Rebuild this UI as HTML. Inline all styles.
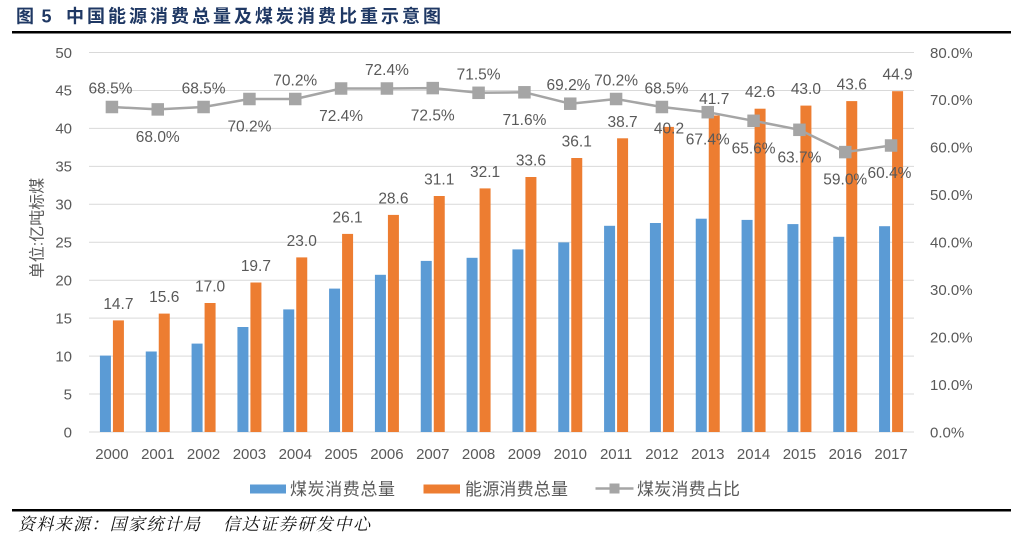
<!DOCTYPE html>
<html><head><meta charset="utf-8"><style>
html,body{margin:0;padding:0;background:#fff;}
svg{display:block;}
</style></head><body>
<svg width="1016" height="537" viewBox="0 0 1016 537" xmlns="http://www.w3.org/2000/svg">
<rect width="1016" height="537" fill="#fff"/>
<!-- Title -->
<g fill="#1F3864" font-weight="bold">
<text x="16" y="22.5" font-size="18" font-family="'Liberation Sans','Noto Sans CJK SC',sans-serif">图</text>
<text x="41.5" y="22.5" font-size="18" font-family="'Liberation Sans',sans-serif">5</text>
<text x="66" y="22.5" font-size="18" textLength="375" lengthAdjust="spacing" font-family="'Liberation Sans','Noto Sans CJK SC',sans-serif">中国能源消费总量及煤炭消费比重示意图</text>
</g>
<rect x="12" y="31" width="999" height="2.5" fill="#000"/>
<rect x="12" y="509" width="999" height="2.5" fill="#000"/>
<!-- Source -->
<g fill="#111" font-size="17" font-style="italic" font-family="'Liberation Serif','Noto Serif CJK SC',serif">
<text x="18" y="530" textLength="182" lengthAdjust="spacing">资料来源：国家统计局</text>
<text x="223" y="530" textLength="147" lengthAdjust="spacing">信达证券研发中心</text>
</g>
<!-- Gridlines -->
<g stroke="#D9D9D9" stroke-width="1">
<line x1="89" x2="914" y1="432" y2="432"/>
<line x1="89" x2="914" y1="394.05" y2="394.05"/>
<line x1="89" x2="914" y1="356.1" y2="356.1"/>
<line x1="89" x2="914" y1="318.15" y2="318.15"/>
<line x1="89" x2="914" y1="280.2" y2="280.2"/>
<line x1="89" x2="914" y1="242.25" y2="242.25"/>
<line x1="89" x2="914" y1="204.3" y2="204.3"/>
<line x1="89" x2="914" y1="166.35" y2="166.35"/>
<line x1="89" x2="914" y1="128.4" y2="128.4"/>
<line x1="89" x2="914" y1="90.45" y2="90.45"/>
<line x1="89" x2="914" y1="52.5" y2="52.5"/>
</g>
<!-- Left axis labels -->
<g fill="#595959" font-size="15" font-family="'Liberation Sans',sans-serif" text-anchor="end">
<text x="72" y="437.3">0</text>
<text x="72" y="399.3">5</text>
<text x="72" y="361.4">10</text>
<text x="72" y="323.4">15</text>
<text x="72" y="285.5">20</text>
<text x="72" y="247.5">25</text>
<text x="72" y="209.6">30</text>
<text x="72" y="171.6">35</text>
<text x="72" y="133.7">40</text>
<text x="72" y="95.7">45</text>
<text x="72" y="57.8">50</text>
</g>
<!-- Right axis labels -->
<g fill="#595959" font-size="15" font-family="'Liberation Sans',sans-serif">
<text x="930" y="437.3">0.0%</text>
<text x="930" y="389.9">10.0%</text>
<text x="930" y="342.4">20.0%</text>
<text x="930" y="295.0">30.0%</text>
<text x="930" y="247.5">40.0%</text>
<text x="930" y="200.1">50.0%</text>
<text x="930" y="152.7">60.0%</text>
<text x="930" y="105.2">70.0%</text>
<text x="930" y="57.8">80.0%</text>
</g>
<!-- Y axis title -->
<text transform="translate(42.5,228) rotate(-90)" text-anchor="middle" fill="#595959" font-size="16" font-family="'Liberation Sans','Noto Sans CJK SC',sans-serif">单位:亿吨标煤</text>
<!-- Blue bars -->
<g fill="#5B9BD5">
<rect x="99.92" y="355.6" width="11" height="76.4"/>
<rect x="145.75" y="351.5" width="11" height="80.5"/>
<rect x="191.58" y="343.6" width="11" height="88.4"/>
<rect x="237.42" y="327.0" width="11" height="105.0"/>
<rect x="283.25" y="309.4" width="11" height="122.6"/>
<rect x="329.08" y="288.6" width="11" height="143.4"/>
<rect x="374.92" y="274.8" width="11" height="157.2"/>
<rect x="420.75" y="260.9" width="11" height="171.1"/>
<rect x="466.58" y="257.8" width="11" height="174.2"/>
<rect x="512.42" y="249.4" width="11" height="182.6"/>
<rect x="558.25" y="242.4" width="11" height="189.6"/>
<rect x="604.08" y="225.8" width="11" height="206.2"/>
<rect x="649.92" y="223.0" width="11" height="209.0"/>
<rect x="695.75" y="218.7" width="11" height="213.3"/>
<rect x="741.58" y="219.9" width="11" height="212.1"/>
<rect x="787.42" y="224.1" width="11" height="207.9"/>
<rect x="833.25" y="236.8" width="11" height="195.2"/>
<rect x="879.08" y="226.2" width="11" height="205.8"/>
</g>
<!-- Orange bars -->
<g fill="#ED7D31">
<rect x="112.92" y="320.4" width="11" height="111.6"/>
<rect x="158.75" y="313.6" width="11" height="118.4"/>
<rect x="204.58" y="303.0" width="11" height="129.0"/>
<rect x="250.42" y="282.5" width="11" height="149.5"/>
<rect x="296.25" y="257.4" width="11" height="174.6"/>
<rect x="342.08" y="233.9" width="11" height="198.1"/>
<rect x="387.92" y="214.9" width="11" height="217.1"/>
<rect x="433.75" y="196.0" width="11" height="236.0"/>
<rect x="479.58" y="188.4" width="11" height="243.6"/>
<rect x="525.42" y="177.0" width="11" height="255.0"/>
<rect x="571.25" y="158.0" width="11" height="274.0"/>
<rect x="617.08" y="138.3" width="11" height="293.7"/>
<rect x="662.92" y="126.9" width="11" height="305.1"/>
<rect x="708.75" y="115.5" width="11" height="316.5"/>
<rect x="754.58" y="108.7" width="11" height="323.3"/>
<rect x="800.42" y="105.6" width="11" height="326.4"/>
<rect x="846.25" y="101.1" width="11" height="330.9"/>
<rect x="892.08" y="91.2" width="11" height="340.8"/>
</g>
<!-- Line -->
<polyline fill="none" stroke="#A5A5A5" stroke-width="2.5" stroke-linejoin="round"
points="111.92,107.0 157.75,109.4 203.58,107.0 249.42,99.0 295.25,99.0 341.08,88.5 386.92,88.5 432.75,88.1 478.58,92.8 524.42,92.3 570.25,103.7 616.08,99.0 661.92,107.0 707.75,112.2 753.58,120.8 799.42,129.8 845.25,152.1 891.08,145.5"/>
<g fill="#A5A5A5">
<rect x="105.67" y="100.75" width="12.5" height="12.5"/>
<rect x="151.5" y="103.15" width="12.5" height="12.5"/>
<rect x="197.33" y="100.75" width="12.5" height="12.5"/>
<rect x="243.17" y="92.75" width="12.5" height="12.5"/>
<rect x="289.0" y="92.75" width="12.5" height="12.5"/>
<rect x="334.83" y="82.25" width="12.5" height="12.5"/>
<rect x="380.67" y="82.25" width="12.5" height="12.5"/>
<rect x="426.5" y="81.85" width="12.5" height="12.5"/>
<rect x="472.33" y="86.55" width="12.5" height="12.5"/>
<rect x="518.17" y="86.05" width="12.5" height="12.5"/>
<rect x="564.0" y="97.45" width="12.5" height="12.5"/>
<rect x="609.83" y="92.75" width="12.5" height="12.5"/>
<rect x="655.67" y="100.75" width="12.5" height="12.5"/>
<rect x="701.5" y="105.95" width="12.5" height="12.5"/>
<rect x="747.33" y="114.55" width="12.5" height="12.5"/>
<rect x="793.17" y="123.55" width="12.5" height="12.5"/>
<rect x="839.0" y="145.85" width="12.5" height="12.5"/>
<rect x="884.83" y="139.25" width="12.5" height="12.5"/>
</g>
<!-- Bar labels -->
<g fill="#595959" font-size="15.5" font-family="'Liberation Sans',sans-serif" text-anchor="middle">
<text x="118.4" y="308.9">14.7</text>
<text x="164.25" y="302.1">15.6</text>
<text x="210.1" y="291.5">17.0</text>
<text x="255.9" y="271.0">19.7</text>
<text x="301.75" y="245.9">23.0</text>
<text x="347.6" y="222.4">26.1</text>
<text x="393.4" y="203.4">28.6</text>
<text x="439.25" y="184.5">31.1</text>
<text x="485.1" y="176.9">32.1</text>
<text x="530.9" y="165.5">33.6</text>
<text x="576.75" y="146.5">36.1</text>
<text x="622.6" y="126.8">38.7</text>
<text x="669" y="133.5">40.2</text>
<text x="714.25" y="104.0">41.7</text>
<text x="760.1" y="97.2">42.6</text>
<text x="805.9" y="94.1">43.0</text>
<text x="851.75" y="89.6">43.6</text>
<text x="897.6" y="79.7">44.9</text>
</g>
<!-- Percent labels -->
<g fill="#595959" font-size="15.5" font-family="'Liberation Sans',sans-serif" text-anchor="middle">
<text x="110.5" y="93.5">68.5%</text>
<text x="157.75" y="141.9">68.0%</text>
<text x="203.58" y="93.5">68.5%</text>
<text x="249.42" y="131.5">70.2%</text>
<text x="295.25" y="85.5">70.2%</text>
<text x="341.08" y="121.0">72.4%</text>
<text x="386.92" y="75.0">72.4%</text>
<text x="432.75" y="120.6">72.5%</text>
<text x="478.58" y="79.3">71.5%</text>
<text x="524.42" y="124.8">71.6%</text>
<text x="568.5" y="90.2">69.2%</text>
<text x="616.08" y="85.5">70.2%</text>
<text x="666.5" y="93.5">68.5%</text>
<text x="707.75" y="144.7">67.4%</text>
<text x="753.58" y="153.3">65.6%</text>
<text x="799.42" y="162.3">63.7%</text>
<text x="845.25" y="184.6">59.0%</text>
<text x="889.5" y="178.0">60.4%</text>
</g>
<!-- X labels -->
<g fill="#595959" font-size="15" font-family="'Liberation Sans',sans-serif" text-anchor="middle">
<text x="111.92" y="459">2000</text>
<text x="157.75" y="459">2001</text>
<text x="203.58" y="459">2002</text>
<text x="249.42" y="459">2003</text>
<text x="295.25" y="459">2004</text>
<text x="341.08" y="459">2005</text>
<text x="386.92" y="459">2006</text>
<text x="432.75" y="459">2007</text>
<text x="478.58" y="459">2008</text>
<text x="524.42" y="459">2009</text>
<text x="570.25" y="459">2010</text>
<text x="616.08" y="459">2011</text>
<text x="661.92" y="459">2012</text>
<text x="707.75" y="459">2013</text>
<text x="753.58" y="459">2014</text>
<text x="799.42" y="459">2015</text>
<text x="845.25" y="459">2016</text>
<text x="891.08" y="459">2017</text>
</g>
<!-- Legend -->
<rect x="250" y="484.5" width="36" height="9" fill="#5B9BD5"/>
<rect x="423.5" y="484.5" width="36.5" height="9" fill="#ED7D31"/>
<line x1="595.5" x2="633.5" y1="488.5" y2="488.5" stroke="#A5A5A5" stroke-width="2.5"/>
<rect x="609.5" y="483.5" width="10" height="10" fill="#A5A5A5"/>
<g fill="#595959" font-size="17" font-family="'Liberation Sans','Noto Sans CJK SC',sans-serif">
<text x="290" y="495" textLength="105" lengthAdjust="spacing">煤炭消费总量</text>
<text x="465" y="495" textLength="103" lengthAdjust="spacing">能源消费总量</text>
<text x="637" y="495" textLength="103" lengthAdjust="spacing">煤炭消费占比</text>
</g>
</svg>
</body></html>
